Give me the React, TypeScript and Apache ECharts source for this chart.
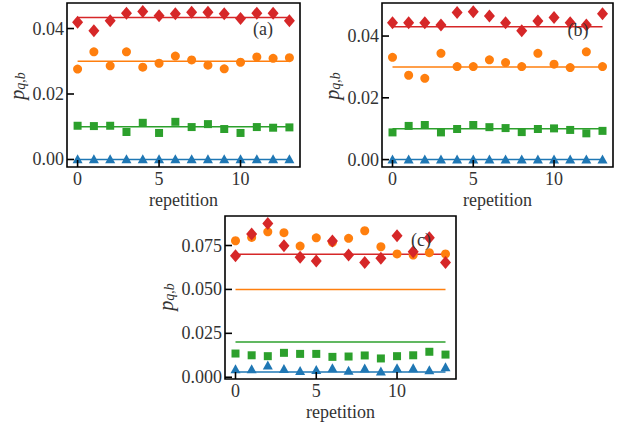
import React, { useEffect, useRef } from "react";
import * as echarts from "echarts";

const repetitions = [0, 1, 2, 3, 4, 5, 6, 7, 8, 9, 10, 11, 12, 13];
const xTicks = [0, 5, 10];

// panel (a)
const aRed = [0.0419, 0.0393, 0.0424, 0.0447, 0.0452, 0.0439, 0.0445, 0.045, 0.045, 0.0445, 0.0431, 0.0447, 0.0447, 0.0424];
const aOrange = [0.0276, 0.0329, 0.0286, 0.0329, 0.0282, 0.0294, 0.0316, 0.0304, 0.0288, 0.0277, 0.0297, 0.0313, 0.0309, 0.0311];
const aGreen = [0.0103, 0.0102, 0.0103, 0.0084, 0.0112, 0.0081, 0.0115, 0.0099, 0.0108, 0.0093, 0.0081, 0.0099, 0.0097, 0.0098];
const aBlue = [0.0002, 0.0002, 0.0002, 0.0002, 0.0002, 0.0002, 0.0002, 0.0002, 0.0002, 0.0002, 0.0002, 0.0002, 0.0002, 0.0002];
const aRef = [0.0434, 0.03, 0.01, 0.0];
const aYTicks = [0, 0.02, 0.04];

// panel (b)
const bRed = [0.0443, 0.0443, 0.0443, 0.0436, 0.0476, 0.0479, 0.0465, 0.0443, 0.0417, 0.0449, 0.046, 0.0443, 0.0436, 0.0472];
const bOrange = [0.0331, 0.0273, 0.0263, 0.0344, 0.0301, 0.0301, 0.0323, 0.0314, 0.0301, 0.0344, 0.0309, 0.0298, 0.0349, 0.0301];
const bGreen = [0.0088, 0.0109, 0.0112, 0.0088, 0.0099, 0.0112, 0.0105, 0.0102, 0.0089, 0.0099, 0.0101, 0.0096, 0.0085, 0.0093];
const bBlue = [0.0002, 0.0002, 0.0002, 0.0002, 0.0002, 0.0002, 0.0002, 0.0002, 0.0002, 0.0002, 0.0002, 0.0002, 0.0002, 0.0002];
const bRef = [0.043, 0.03, 0.01, 0.0];
const bYTicks = [0, 0.02, 0.04];

// panel (c)
const cRed = [0.0692, 0.0815, 0.0876, 0.0749, 0.0683, 0.0662, 0.0776, 0.0696, 0.0653, 0.0677, 0.0806, 0.0715, 0.0794, 0.0653];
const cOrange = [0.0777, 0.0796, 0.0828, 0.0823, 0.0747, 0.0794, 0.0768, 0.0791, 0.0834, 0.0743, 0.0702, 0.0696, 0.0709, 0.0702];
const cGreen = [0.0135, 0.0125, 0.012, 0.0139, 0.0133, 0.0133, 0.0116, 0.0118, 0.0124, 0.0107, 0.012, 0.0125, 0.0145, 0.0129];
const cBlue = [0.0048, 0.0048, 0.0069, 0.005, 0.0039, 0.0044, 0.0054, 0.004, 0.0052, 0.0035, 0.0054, 0.0054, 0.0042, 0.006];
const cRef = [0.07, 0.05, 0.02, 0.003];
const cYTicks = [0, 0.025, 0.05, 0.075];

const COLORS = ["#d62728", "#ff7f0e", "#2ca02c", "#1f77b4"];
const SYMBOLS = ["diamond", "circle", "rect", "triangle"];
const SIZES: any[] = [[11, 13], 9, 8, [10, 9]];
const FONT = "Liberation Serif";

const txtStyle = (text: string, align: string, valign: string) => ({
  text,
  fontFamily: FONT,
  fontSize: 18,
  fill: "#333",
  textAlign: align,
  textVerticalAlign: valign,
  align,
  verticalAlign: valign,
});

export default function App() {
  const ref = useRef<HTMLDivElement>(null);
  useEffect(() => {
    if (!ref.current) return;
    const chart = echarts.init(ref.current, null, { renderer: "svg" });

    const X_MIN = -0.65;
    const X_MAX = 13.65;

    const panels = [
      { grid: { left: 67, top: 3, width: 233, height: 164 }, y: [-0.0023, 0.0478], yt: aYTicks, dec: 2, data: [aRed, aOrange, aGreen, aBlue], refs: aRef, label: "(a)", lp: [263, 29], xn: [183.5, 200], yn: [17, 86] },
      { grid: { left: 382, top: 3, width: 231, height: 164 }, y: [-0.0024, 0.0507], yt: bYTicks, dec: 2, data: [bRed, bOrange, bGreen, bBlue], refs: bRef, label: "(b)", lp: [578, 30], xn: [497.5, 200], yn: [332, 86] },
      { grid: { left: 225, top: 216, width: 231, height: 163 }, y: [-0.001, 0.0918], yt: cYTicks, dec: 3, data: [cRed, cOrange, cGreen, cBlue], refs: cRef, label: "(c)", lp: [421, 240], xn: [340.5, 412], yn: [166, 297] },
    ];

    const grids: any[] = [];
    const xAxes: any[] = [];
    const yAxes: any[] = [];
    const series: any[] = [];
    const graphics: any[] = [];

    panels.forEach((p, i) => {
      grids.push({ ...p.grid, show: true, borderColor: "#000", borderWidth: 1.6 });
      xAxes.push({
        type: "value", gridIndex: i, min: X_MIN, max: X_MAX,
        axisLine: { show: false, onZero: false },
        axisTick: { show: false }, axisLabel: { show: false }, splitLine: { show: false },
      });
      yAxes.push({
        type: "value", gridIndex: i, min: p.y[0], max: p.y[1],
        axisLine: { show: false, onZero: false },
        axisTick: { show: false }, axisLabel: { show: false }, splitLine: { show: false },
      });
      p.refs.forEach((v, k) => {
        series.push({
          type: "line", xAxisIndex: i, yAxisIndex: i, showSymbol: false, symbol: "none",
          data: [[repetitions[0], v], [repetitions[repetitions.length - 1], v]],
          lineStyle: { color: COLORS[k], width: 1.5 }, silent: true, z: 2,
        });
      });
      for (let k = 3; k >= 0; k--) {
        series.push({
          type: "scatter", xAxisIndex: i, yAxisIndex: i,
          symbol: SYMBOLS[k], symbolSize: SIZES[k],
          itemStyle: { color: COLORS[k], opacity: 1 },
          data: repetitions.map((r, j) => [r, p.data[k][j]]),
          z: 3,
        });
      }
      // y ticks (inside) and labels, placed through the axis scale
      series.push({
        type: "custom", xAxisIndex: i, yAxisIndex: i, clip: false, silent: true, z: 10,
        data: p.yt.map((v) => [X_MIN, v]),
        renderItem: (_params: any, api: any) => {
          const v = api.value(1);
          const pt = api.coord([api.value(0), v]);
          return {
            type: "group",
            children: [
              { type: "line", shape: { x1: pt[0], y1: pt[1], x2: pt[0] + 7, y2: pt[1] }, style: { stroke: "#000", lineWidth: 1.6 } },
              { type: "text", x: pt[0] - 3, y: pt[1], style: txtStyle(v.toFixed(p.dec), "right", "middle") },
            ],
          };
        },
      });
      // x ticks and labels
      series.push({
        type: "custom", xAxisIndex: i, yAxisIndex: i, clip: false, silent: true, z: 10,
        data: xTicks.map((v) => [v, p.y[0]]),
        renderItem: (_params: any, api: any) => {
          const v = api.value(0);
          const pt = api.coord([v, api.value(1)]);
          return {
            type: "group",
            children: [
              { type: "line", shape: { x1: pt[0], y1: pt[1], x2: pt[0], y2: pt[1] - 7 }, style: { stroke: "#000", lineWidth: 1.6 } },
              { type: "text", x: pt[0], y: pt[1] + 3, style: txtStyle(String(v), "center", "top") },
            ],
          };
        },
      });
      graphics.push({
        type: "text", x: p.lp[0], y: p.lp[1], z: 100,
        style: txtStyle(p.label, "center", "middle"),
      });
      graphics.push({
        type: "text", x: p.xn[0], y: p.xn[1], z: 100,
        style: txtStyle("repetition", "center", "middle"),
      });
      graphics.push({
        type: "text", x: p.yn[0], y: p.yn[1], rotation: Math.PI / 2, z: 100,
        style: {
          text: "{p|p}{s|q,b}",
          fontFamily: FONT,
          fontSize: 18,
          fill: "#333",
          textAlign: "center", textVerticalAlign: "middle", align: "center", verticalAlign: "middle",
          rich: {
            p: { fontFamily: FONT, fontSize: 20, fontStyle: "italic", fill: "#333" },
            s: { fontFamily: FONT, fontSize: 14, fontStyle: "italic", fill: "#333", verticalAlign: "bottom", padding: [6, 0, 0, 0] },
          },
        },
      });
    });

    chart.setOption({
      animation: false,
      grid: grids,
      xAxis: xAxes,
      yAxis: yAxes,
      series,
      graphic: graphics,
    });
    return () => chart.dispose();
  }, []);

  return <div ref={ref} style={{ position: "absolute", left: 0, top: 0, width: 622, height: 428 }} />;
}
